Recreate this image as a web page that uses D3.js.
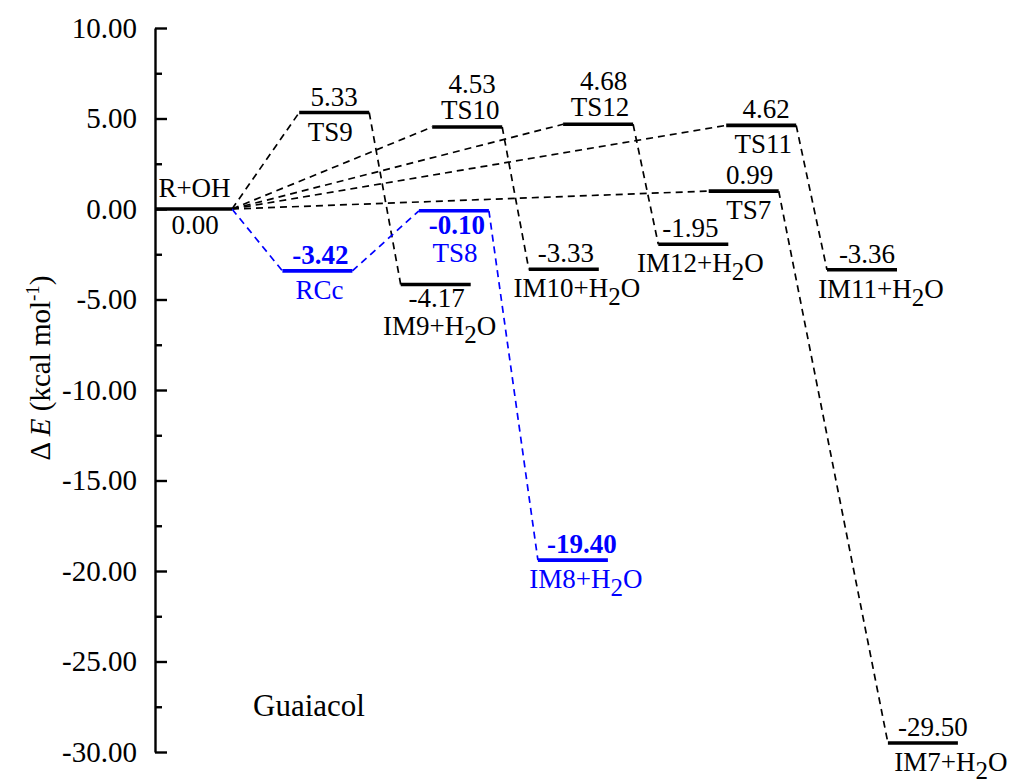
<!DOCTYPE html>
<html>
<head>
<meta charset="utf-8">
<script src="https://cdn.jsdelivr.net/npm/d3@7"></script>
<style>
  html, body { margin: 0; padding: 0; background: #fff; }
  svg { display: block; }
</style>
</head>
<body>
<svg id="chart" width="1009" height="780"></svg>
<script>
// ---------- data ----------
const levelNames = ["R+OH", "TS9", "RCc", "IM9+H2O", "TS8", "TS10", "IM10+H2O",
                    "IM8+H2O", "TS12", "IM12+H2O", "TS7", "TS11", "IM11+H2O", "IM7+H2O"];
const energies = [0.00, 5.33, -3.42, -4.17, -0.10, 4.53, -3.33,
                  -19.40, 4.68, -1.95, 0.99, 4.62, -3.36, -29.50];
// reaction coordinate (start of each level, arbitrary units)
const reactionCoord = [0, 2.06, 1.82, 3.51, 3.77, 3.96, 5.34,
                       5.47, 5.83, 7.19, 7.91, 8.16, 9.6, 10.47];
const blackPaths = [
  ["R+OH", "TS9", "IM9+H2O"],
  ["R+OH", "TS10", "IM10+H2O"],
  ["R+OH", "TS12", "IM12+H2O"],
  ["R+OH", "TS11", "IM11+H2O"],
  ["R+OH", "TS7", "IM7+H2O"]
];
const bluePath = ["R+OH", "RCc", "TS8", "IM8+H2O"];
const yMajorTicks = [10, 5, 0, -5, -10, -15, -20, -25, -30];
const yMinorTicks = [7.5, 2.5, -2.5, -7.5, -12.5, -17.5, -22.5, -27.5];
const yTitle = "kcal mol";
const systemLabel = "Guaiacol";

// ---------- layout config (label nudges, px) ----------
const nameNudge = { "R+OH": 1, "TS9": -4, "RCc": 2, "IM9+H2O": 4, "TS8": 1, "TS10": 3,
  "IM10+H2O": 13, "IM8+H2O": 13, "TS12": 2, "IM12+H2O": 7, "TS7": 5, "TS11": 2,
  "IM11+H2O": 19, "IM7+H2O": 28 };
const valueNudge = { "R+OH": 1.5, "TS9": 0, "RCc": 3, "IM9+H2O": 1, "TS8": 3, "TS10": 5,
  "IM10+H2O": 2, "IM8+H2O": 9, "TS12": 5.5, "IM12+H2O": -3, "TS7": 6, "TS11": 5,
  "IM11+H2O": 5, "IM7+H2O": 10 };

// ---------- setup ----------
const FONT = "'Liberation Serif', 'Times New Roman', Times, serif";
const svg = d3.select("#chart").attr("font-family", FONT);
const x = d3.scaleLinear().domain([0, 12]).range([155, 995]);
const y = d3.scaleLinear().domain([-30, 10]).range([752, 28]);
const BLUE = "#0000ff";
const blueSet = new Set(bluePath.slice(1));
const bothBelow = new Set(["TS8", "IM9+H2O"]);
const bothAbove = new Set(["TS10", "TS12"]);

const levels = levelNames.map((n, i) => ({
  name: n, e: energies[i], x0: reactionCoord[i],
  x1: reactionCoord[i] + (n === "R+OH" ? 1.1 : 1.0)
}));
const byName = new Map(levels.map(d => [d.name, d]));
const fmt = v => d3.format(".2f")(v).replace("\u2212", "-");

// ---------- axis ----------
const gAxis = svg.append("g").attr("transform", `translate(${x(0)},0)`);
gAxis.call(d3.axisLeft(y).tickValues(yMajorTicks).tickSizeInner(-12).tickSizeOuter(0)
  .tickPadding(18).tickFormat(fmt))
  .attr("font-family", FONT)
  .call(g => g.select(".domain").attr("stroke", "#000").attr("stroke-width", 2.4))
  .call(g => g.selectAll(".tick line").attr("stroke", "#000").attr("stroke-width", 2.4))
  .call(g => g.selectAll(".tick text").attr("fill", "#000")
    .style("font-family", FONT)
    .style("font-size", "29px"));

const gMinor = svg.append("g").attr("transform", `translate(${x(0)},0)`);
gMinor.call(d3.axisLeft(y).tickValues(yMinorTicks).tickSizeInner(-7).tickSizeOuter(0).tickFormat(""))
  .call(g => g.select(".domain").remove())
  .call(g => g.selectAll(".tick line").attr("stroke", "#000").attr("stroke-width", 2.4));

// y title
const title = svg.append("text")
  .attr("transform", `translate(50,368) rotate(-90)`)
  .attr("text-anchor", "middle")
  .style("font-family", FONT)
  .style("font-size", "29px").attr("fill", "#000");
title.append("tspan").text("\u0394 ");
title.append("tspan").attr("font-style", "italic").text("E");
title.append("tspan").text(" (" + yTitle);
title.append("tspan").attr("dy", -11).style("font-size", "19px").text("-1");
title.append("tspan").attr("dy", 11).text(")");

// ---------- connectors ----------
function connectors(path) {
  const segs = [];
  for (let i = 0; i < path.length - 1; i++) {
    segs.push({ a: byName.get(path[i]), b: byName.get(path[i + 1]) });
  }
  return segs;
}
const blackSegs = blackPaths.flatMap(connectors);
const blueSegs = connectors(bluePath);

svg.append("g").selectAll("line").data(blackSegs).join("line")
  .attr("x1", d => x(d.a.x1)).attr("y1", d => y(d.a.e))
  .attr("x2", d => x(d.b.x0)).attr("y2", d => y(d.b.e))
  .attr("stroke", "#000").attr("stroke-width", 1.7).attr("stroke-dasharray", "7,5");
svg.append("g").selectAll("line").data(blueSegs).join("line")
  .attr("x1", d => x(d.a.x1)).attr("y1", d => y(d.a.e))
  .attr("x2", d => x(d.b.x0)).attr("y2", d => y(d.b.e))
  .attr("stroke", BLUE).attr("stroke-width", 1.7).attr("stroke-dasharray", "7,5");

// ---------- levels ----------
svg.append("g").selectAll("line").data(levels).join("line")
  .attr("x1", d => x(d.x0)).attr("x2", d => x(d.x1))
  .attr("y1", d => y(d.e)).attr("y2", d => y(d.e))
  .attr("stroke", d => blueSet.has(d.name) ? BLUE : "#000")
  .attr("stroke-width", 3.6);

// ---------- labels ----------
function addName(g, d, yy) {
  const t = g.append("text").attr("x", x((d.x0 + d.x1) / 2) + (nameNudge[d.name] || 0)).attr("y", yy)
    .attr("text-anchor", "middle").style("font-family", FONT).style("font-size", "27px")
    .attr("fill", blueSet.has(d.name) ? BLUE : "#000");
  const m = d.name.match(/^(.*H)2(O)$/);
  if (m) {
    t.append("tspan").text(m[1]);
    t.append("tspan").attr("dy", 8).style("font-size", "25px").text("2");
    t.append("tspan").attr("dy", -8).text(m[2]);
  } else {
    t.text(d.name);
  }
}
function addValue(g, d, yy) {
  g.append("text").attr("x", x((d.x0 + d.x1) / 2) + (valueNudge[d.name] || 0)).attr("y", yy)
    .attr("text-anchor", "middle").style("font-family", FONT).style("font-size", "27px")
    .attr("font-weight", blueSet.has(d.name) ? "bold" : "normal")
    .attr("fill", blueSet.has(d.name) ? BLUE : "#000")
    .text(fmt(d.e));
}
const gLab = svg.append("g");
levels.forEach(d => {
  const yy = y(d.e);
  if (d.name === "R+OH") {
    addName(gLab, d, yy - 12);
    addValue(gLab, d, yy + 25);
  } else if (bothBelow.has(d.name)) {
    addValue(gLab, d, yy + 23);
    addName(gLab, d, yy + 51);
  } else if (bothAbove.has(d.name)) {
    addValue(gLab, d, yy - 34);
    addName(gLab, d, yy - 8);
  } else {
    addValue(gLab, d, yy - 7);
    addName(gLab, d, yy + 28);
  }
});

svg.append("text").attr("x", 253).attr("y", 716)
  .style("font-family", FONT)
  .style("font-size", "31px").attr("fill", "#000").text(systemLabel);
</script>
</body>
</html>
